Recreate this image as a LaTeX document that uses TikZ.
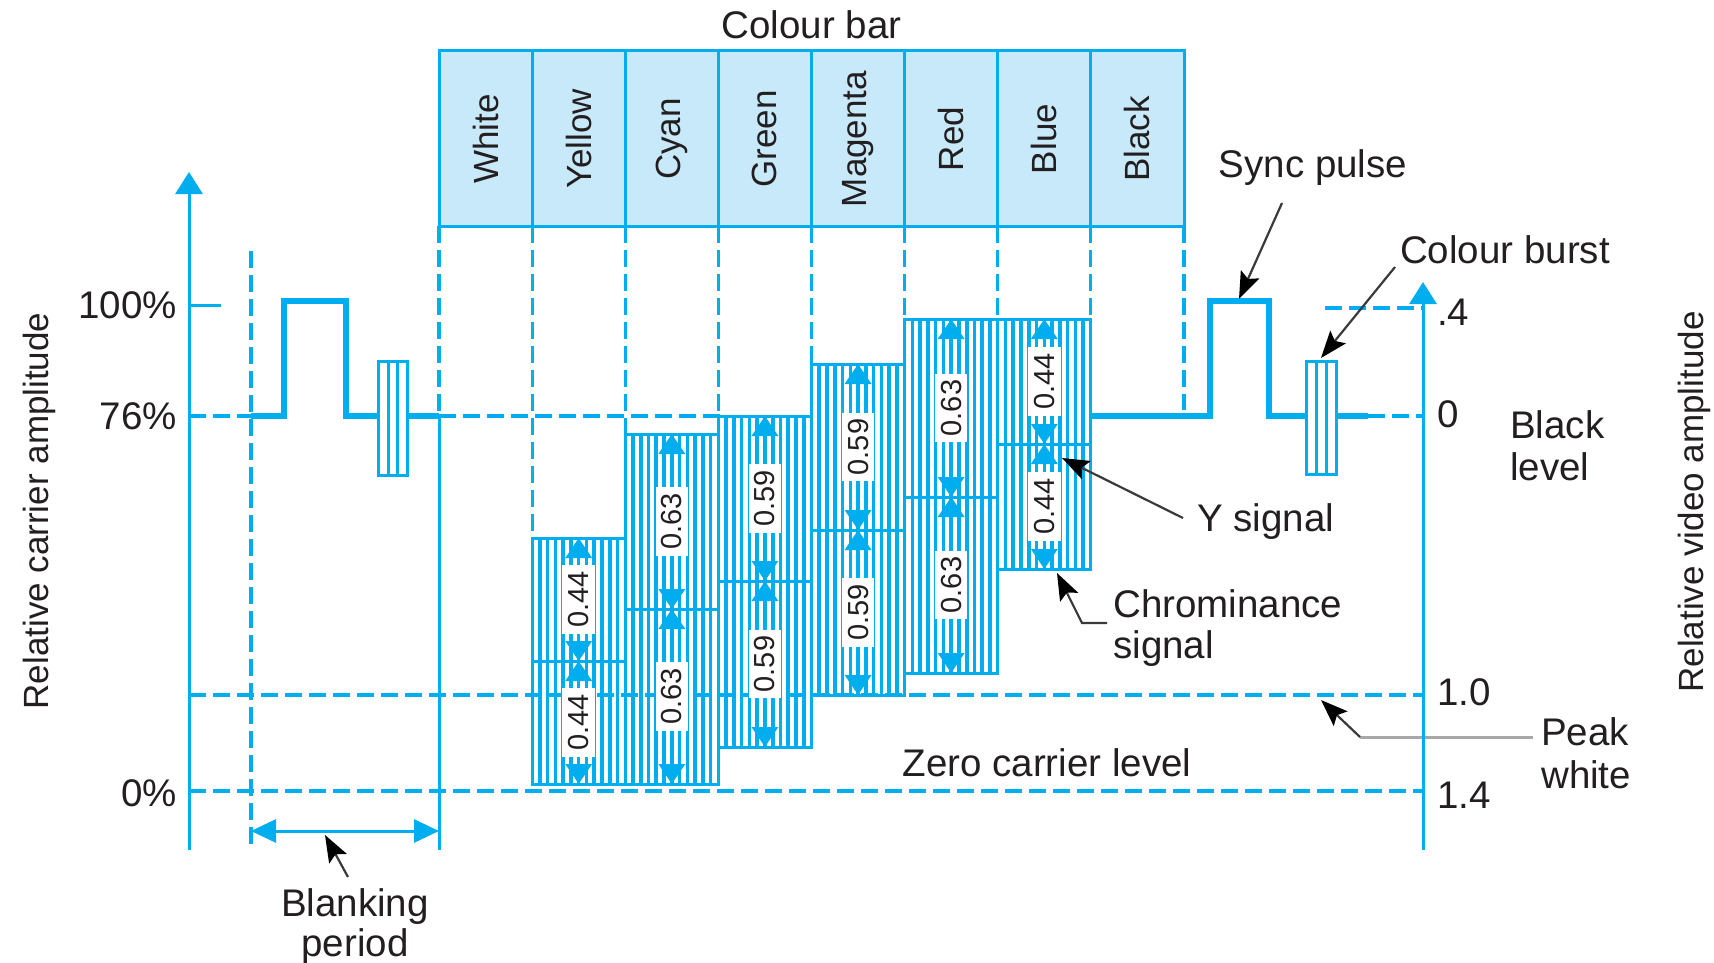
\documentclass[tikz,border=0pt]{standalone}
\usepackage{fontspec}
\setmainfont{Liberation Sans}
\usetikzlibrary{arrows.meta}
\definecolor{cb}{HTML}{00AEEF}
\definecolor{cbfill}{HTML}{C8E9FA}
\definecolor{ink}{HTML}{231F20}
\definecolor{ptr}{HTML}{3A3A3A}
\definecolor{ptrlight}{HTML}{A8A8A8}
\begin{document}
\begin{tikzpicture}[x=1pt,y=-1pt,
  vaxis/.style={draw=cb, line width=3pt},
  dashln/.style={draw=cb, line width=3.1pt, dash pattern=on 17pt off 7pt},
  sig/.style={draw=cb, line width=6pt, line join=miter},
  hatchln/.style={draw=cb, line width=3.6pt},
  boxln/.style={draw=cb, line width=3pt},
  lbl/.style={font=\fontsize{38.5}{42}\selectfont, text=ink, inner sep=0pt},
  numlbl/.style={font=\fontsize{29}{30}\selectfont, text=ink, fill=white, rotate=90, inner xsep=6pt, inner ysep=6pt},
  colname/.style={font=\fontsize{35}{36}\selectfont, text=ink, rotate=90, inner sep=0pt},
  axlbl/.style={font=\fontsize{35}{36}\selectfont, text=ink, rotate=90, inner sep=0pt},
  ptrln/.style={draw=ptr, line width=2.2pt, -{Stealth[length=27pt,width=20pt,inset=5pt,color=black]}},
  dimarrow/.style={draw=cb, line width=3.6pt, {Triangle[length=20pt,width=26pt]}-{Triangle[length=20pt,width=26pt]}},
  blankarrow/.style={draw=cb, line width=3pt, {Triangle[length=25pt,width=23pt]}-{Triangle[length=25pt,width=23pt]}},
  uparrow/.style={draw=cb, line width=3pt, -{Triangle[length=22pt,width=27pt]}},
]
\fill[white] (0,0) rectangle (1714,963);
\useasboundingbox (0,0) rectangle (1714,963);

% colour bar
\draw[boxln, fill=cbfill] (439,51) rectangle (1184,226);
\foreach \k in {1,...,7} \draw[boxln] ({439+\k*93.125},51) -- ({439+\k*93.125},226);
\foreach \k/\n in {0/White,1/Yellow,2/Cyan,3/Green,4/Magenta,5/Red,6/Blue,7/Black}
  \node[colname] (col\k) at ({439+(\k+0.5)*93.125},139) {\n};
\node[lbl, anchor=base] (cbar) at (811.5,39) {Colour bar};

% dashed verticals under the colour bar
\foreach \k/\e in {0/416,1/538,2/434,3/416,4/364,5/319,6/319,7/319,8/410}
  \draw[dashln] ({439+\k*93.125},226) -- ({439+\k*93.125},\e);
\draw[vaxis] (439,416) -- (439,850);

% horizontal dashed levels
\draw[dashln] (189,416) -- (251,416);
\draw[dashln] (439,416) -- (720,416);
\draw[dashln] (189,791) -- (1423,791);
\draw[dashln] (1325,308) -- (1423,308);
\draw[dashln] (1368,416) -- (1423,416);
\draw[dashln] (251,251) -- (251,848);

% hatched bars
\foreach \i/\ya/\ym/\yb/\vv in {1/538/661/784/0.44, 2/434/609/784/0.63, 3/416/581/747/0.59, 4/364/530/695/0.59, 5/319/497/673/0.63, 6/319/444/569/0.44} {
  \pgfmathsetmacro\xl{439+\i*93.125}
  \pgfmathsetmacro\xr{\xl+93.125}
  \foreach \k in {1,...,11} \draw[hatchln] ({\xl+\k*93.125/12},\ya) -- ({\xl+\k*93.125/12},\yb);
  \draw[boxln] (\xl,\ya) rectangle (\xr,\yb);
  \draw[boxln] (\xl,\ym) -- (\xr,\ym);
}
\draw[dashln] (189,695) -- (1423,695);
\foreach \i/\ya/\ym/\yb/\vv in {1/538/661/784/0.44, 2/434/609/784/0.63, 3/416/581/747/0.59, 4/364/530/695/0.59, 5/319/497/673/0.63, 6/319/444/569/0.44} {
  \pgfmathsetmacro\xc{439+(\i+0.5)*93.125}
  \draw[dimarrow] (\xc,\ym) -- (\xc,\ya);
  \draw[dimarrow] (\xc,\ym) -- (\xc,\yb);
  \node[numlbl] (up\i) at (\xc,{(\ya+\ym)/2}) {\vv};
  \node[numlbl] (dn\i) at (\xc,{(\ym+\yb)/2}) {\vv};
}

% left signal
\draw[sig] (251,416) -- (284,416) -- (284,301) -- (346,301) -- (346,416) -- (378,416);
\draw[boxln, fill=white] (378,361) rectangle (407,475);
\draw[boxln] (388,361) -- (388,475);
\draw[boxln] (397.5,361) -- (397.5,475);
\draw[sig] (407,416) -- (439,416);

% right signal
\draw[sig] (1091,416) -- (1210,416) -- (1210,301) -- (1269,301) -- (1269,416) -- (1306,416);
\draw[boxln, fill=white] (1306,361) rectangle (1336,474);
\draw[boxln] (1316,361) -- (1316,474);
\draw[boxln] (1326,361) -- (1326,474);
\draw[sig] (1336,416) -- (1368,416);

% blanking period arrow
\coordinate (bl1) at (251,831);
\coordinate (bl2) at (439,831);
\draw[blankarrow] (bl1) -- (bl2);

% pointers
\coordinate (syncA) at (1282,203); \coordinate (syncB) at (1239,299);
\draw[ptrln] (syncA) -- (syncB);
\coordinate (burA) at (1395,267); \coordinate (burB) at (1321,358);
\draw[ptrln] (burA) -- (burB);
\coordinate (yA) at (1183,518); \coordinate (yB) at (1062,458);
\draw[ptrln] (yA) -- (yB);
\coordinate (chA) at (1107,623); \coordinate (chM) at (1082,623); \coordinate (chB) at (1057,573);
\draw[ptrln] (chA) -- (chM) -- (chB);
\coordinate (pkA) at (1533,737); \coordinate (pkM) at (1360,737); \coordinate (pkB) at (1321,700);
\draw[draw=ptrlight, line width=3pt] (pkA) -- (pkM);
\draw[ptrln] (pkM) -- (pkB);
\coordinate (bkA) at (348,877); \coordinate (bkB) at (325,835);
\draw[ptrln] (bkA) -- (bkB);

% axes
\draw[uparrow] (189,850) -- (189,172);
\draw[vaxis] (189,305) -- (221,305);
\draw[uparrow] (1423,850) -- (1423,282);

% axis labels
\node[lbl, anchor=base east] (p100) at (177,318) {100\%};
\node[lbl, anchor=base east] (p76) at (177,429) {76\%};
\node[lbl, anchor=base east] (p0) at (177,806) {0\%};
\node[lbl, anchor=base west] (r4) at (1437,325) {.4};
\node[lbl, anchor=base west] (r0) at (1437,427) {0};
\node[lbl, anchor=base west] (r10) at (1437,705) {1.0};
\node[lbl, anchor=base west] (r14) at (1437,808) {1.4};
\node[axlbl] (lax) at (39,511) {Relative carrier amplitude};
\node[axlbl] (rax) at (1694,502) {Relative video amplitude};

% annotations
\node[lbl, anchor=base] (sync) at (1313,178) {Sync pulse};
\node[lbl, anchor=base] (burst) at (1505,263) {Colour burst};
\node[lbl, anchor=base west] (blk1) at (1510,438) {Black};
\node[lbl, anchor=base west] (blk2) at (1510,480) {level};
\node[lbl, anchor=base west] (ysig) at (1197,531) {Y signal};
\node[lbl, anchor=base west] (chr1) at (1113,617) {Chrominance};
\node[lbl, anchor=base west] (chr2) at (1113,658) {signal};
\node[lbl, anchor=base] (zero) at (1047,776) {Zero carrier level};
\node[lbl, anchor=base west] (pk1) at (1541,745) {Peak};
\node[lbl, anchor=base west] (pk2) at (1541,788) {white};
\node[lbl, anchor=base] (bk1) at (355,916) {Blanking};
\node[lbl, anchor=base] (bk2) at (355,956) {period};
\end{tikzpicture}
\end{document}
